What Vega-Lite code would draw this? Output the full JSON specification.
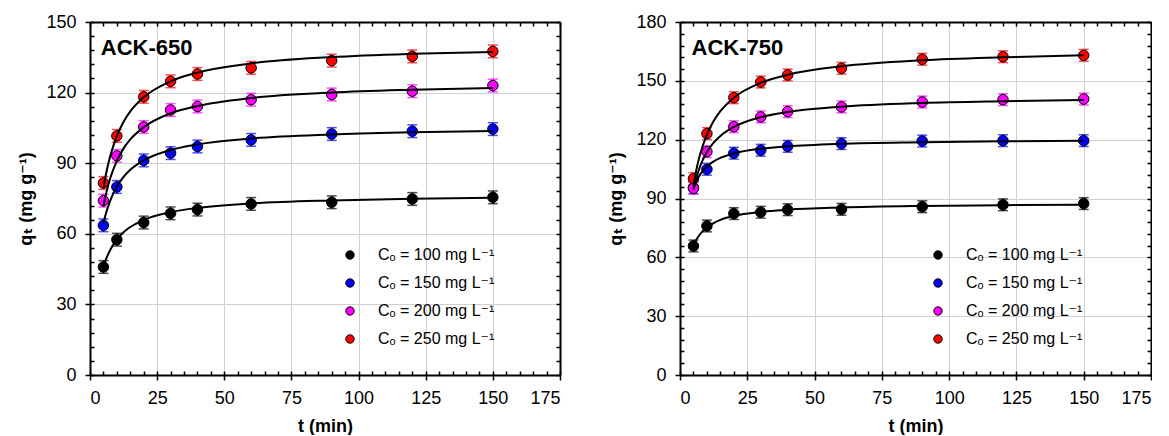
{
  "$schema": "https://vega.github.io/schema/vega-lite/v6.json",
  "background": "white",
  "padding": {"left": 17, "top": 13, "right": 0, "bottom": 0},
  "spacing": 46,
  "resolve": {"scale": {"color": "independent"}},
  "datasets": {
    "p650": [
      {"c":"100","t":5,"q":45.9,"lo":43.2,"hi":48.6},{"c":"100","t":10,"q":57.5,"lo":54.8,"hi":60.2},{"c":"100","t":20,"q":64.8,"lo":62.1,"hi":67.5},{"c":"100","t":30,"q":68.7,"lo":66.0,"hi":71.4},{"c":"100","t":40,"q":70.3,"lo":67.6,"hi":73.0},{"c":"100","t":60,"q":72.7,"lo":70.0,"hi":75.4},{"c":"100","t":90,"q":73.4,"lo":70.7,"hi":76.1},{"c":"100","t":120,"q":74.8,"lo":72.1,"hi":77.5},{"c":"100","t":150,"q":75.5,"lo":72.8,"hi":78.2},
      {"c":"150","t":5,"q":63.6,"lo":60.9,"hi":66.3},{"c":"150","t":10,"q":79.9,"lo":77.2,"hi":82.6},{"c":"150","t":20,"q":91.2,"lo":88.5,"hi":93.9},{"c":"150","t":30,"q":94.3,"lo":91.6,"hi":97.0},{"c":"150","t":40,"q":97.1,"lo":94.4,"hi":99.8},{"c":"150","t":60,"q":99.9,"lo":97.2,"hi":102.6},{"c":"150","t":90,"q":102.4,"lo":99.7,"hi":105.1},{"c":"150","t":120,"q":103.6,"lo":100.9,"hi":106.3},{"c":"150","t":150,"q":104.5,"lo":101.8,"hi":107.2},
      {"c":"200","t":5,"q":74.1,"lo":71.4,"hi":76.8},{"c":"200","t":10,"q":93.1,"lo":90.4,"hi":95.8},{"c":"200","t":20,"q":105.4,"lo":102.7,"hi":108.1},{"c":"200","t":30,"q":112.6,"lo":109.9,"hi":115.3},{"c":"200","t":40,"q":114.1,"lo":111.4,"hi":116.8},{"c":"200","t":60,"q":117.0,"lo":114.3,"hi":119.7},{"c":"200","t":90,"q":119.2,"lo":116.5,"hi":121.9},{"c":"200","t":120,"q":120.6,"lo":117.9,"hi":123.3},{"c":"200","t":150,"q":123.0,"lo":120.3,"hi":125.7},
      {"c":"250","t":5,"q":81.6,"lo":78.9,"hi":84.3},{"c":"250","t":10,"q":101.6,"lo":98.9,"hi":104.3},{"c":"250","t":20,"q":118.2,"lo":115.5,"hi":120.9},{"c":"250","t":30,"q":124.8,"lo":122.1,"hi":127.5},{"c":"250","t":40,"q":127.9,"lo":125.2,"hi":130.6},{"c":"250","t":60,"q":130.5,"lo":127.8,"hi":133.2},{"c":"250","t":90,"q":133.6,"lo":130.9,"hi":136.3},{"c":"250","t":120,"q":135.4,"lo":132.7,"hi":138.1},{"c":"250","t":150,"q":137.5,"lo":134.8,"hi":140.2}
    ],
    "p750": [
      {"c":"100","t":5,"q":65.8,"lo":62.8,"hi":68.8},{"c":"100","t":10,"q":76.0,"lo":73.0,"hi":79.0},{"c":"100","t":20,"q":82.3,"lo":79.3,"hi":85.3},{"c":"100","t":30,"q":83.0,"lo":80.0,"hi":86.0},{"c":"100","t":40,"q":84.3,"lo":81.3,"hi":87.3},{"c":"100","t":60,"q":84.5,"lo":81.5,"hi":87.5},{"c":"100","t":90,"q":85.8,"lo":82.8,"hi":88.8},{"c":"100","t":120,"q":86.8,"lo":83.8,"hi":89.8},{"c":"100","t":150,"q":87.4,"lo":84.4,"hi":90.4},
      {"c":"150","t":5,"q":95.5,"lo":92.5,"hi":98.5},{"c":"150","t":10,"q":104.9,"lo":101.9,"hi":107.9},{"c":"150","t":20,"q":113.1,"lo":110.1,"hi":116.1},{"c":"150","t":30,"q":114.6,"lo":111.6,"hi":117.6},{"c":"150","t":40,"q":116.6,"lo":113.6,"hi":119.6},{"c":"150","t":60,"q":118.0,"lo":115.0,"hi":121.0},{"c":"150","t":90,"q":119.3,"lo":116.3,"hi":122.3},{"c":"150","t":120,"q":119.5,"lo":116.5,"hi":122.5},{"c":"150","t":150,"q":119.5,"lo":116.5,"hi":122.5},
      {"c":"200","t":5,"q":95.2,"lo":92.2,"hi":98.2},{"c":"200","t":10,"q":113.9,"lo":110.9,"hi":116.9},{"c":"200","t":20,"q":126.6,"lo":123.6,"hi":129.6},{"c":"200","t":30,"q":131.6,"lo":128.6,"hi":134.6},{"c":"200","t":40,"q":134.3,"lo":131.3,"hi":137.3},{"c":"200","t":60,"q":136.7,"lo":133.7,"hi":139.7},{"c":"200","t":90,"q":139.2,"lo":136.2,"hi":142.2},{"c":"200","t":120,"q":140.4,"lo":137.4,"hi":143.4},{"c":"200","t":150,"q":140.7,"lo":137.7,"hi":143.7},
      {"c":"250","t":5,"q":100.1,"lo":97.1,"hi":103.1},{"c":"250","t":10,"q":123.1,"lo":120.1,"hi":126.1},{"c":"250","t":20,"q":141.4,"lo":138.4,"hi":144.4},{"c":"250","t":30,"q":149.4,"lo":146.4,"hi":152.4},{"c":"250","t":40,"q":153.0,"lo":150.0,"hi":156.0},{"c":"250","t":60,"q":156.4,"lo":153.4,"hi":159.4},{"c":"250","t":90,"q":161.0,"lo":158.0,"hi":164.0},{"c":"250","t":120,"q":162.3,"lo":159.3,"hi":165.3},{"c":"250","t":150,"q":163.0,"lo":160.0,"hi":166.0}
    ],
    "f650": [
      {"c":"100","t":5,"q":46.0},{"c":"100","t":6,"q":49.3},{"c":"100","t":7.5,"q":53.1},{"c":"100","t":10,"q":57.6},{"c":"100","t":12.5,"q":60.7},{"c":"100","t":15,"q":62.9},{"c":"100","t":20,"q":65.9},{"c":"100","t":30,"q":69.2},{"c":"100","t":40,"q":71.0},{"c":"100","t":60,"q":72.9},{"c":"100","t":90,"q":74.2},{"c":"100","t":120,"q":74.9},{"c":"100","t":150,"q":75.3},
      {"c":"150","t":5,"q":64.4},{"c":"150","t":6,"q":68.9},{"c":"150","t":7.5,"q":74.0},{"c":"150","t":10,"q":80.1},{"c":"150","t":12.5,"q":84.2},{"c":"150","t":15,"q":87.2},{"c":"150","t":20,"q":91.2},{"c":"150","t":30,"q":95.6},{"c":"150","t":40,"q":98.0},{"c":"150","t":60,"q":100.5},{"c":"150","t":90,"q":102.2},{"c":"150","t":120,"q":103.1},{"c":"150","t":150,"q":103.7},
      {"c":"200","t":5,"q":71.6},{"c":"200","t":6,"q":77.1},{"c":"200","t":7.5,"q":83.5},{"c":"200","t":10,"q":91.0},{"c":"200","t":12.5,"q":96.3},{"c":"200","t":15,"q":100.1},{"c":"200","t":20,"q":105.3},{"c":"200","t":30,"q":111.2},{"c":"200","t":40,"q":114.3},{"c":"200","t":60,"q":117.7},{"c":"200","t":90,"q":120.0},{"c":"200","t":120,"q":121.2},{"c":"200","t":150,"q":122.0},
      {"c":"250","t":5,"q":79.4},{"c":"250","t":6,"q":85.6},{"c":"250","t":7.5,"q":92.9},{"c":"250","t":10,"q":101.5},{"c":"250","t":12.5,"q":107.6},{"c":"250","t":15,"q":112.0},{"c":"250","t":20,"q":118.0},{"c":"250","t":30,"q":124.8},{"c":"250","t":40,"q":128.5},{"c":"250","t":60,"q":132.4},{"c":"250","t":90,"q":135.1},{"c":"250","t":120,"q":136.5},{"c":"250","t":150,"q":137.3}
    ],
    "f750": [
      {"c":"100","t":5,"q":66.0},{"c":"100","t":6,"q":68.8},{"c":"100","t":7.5,"q":71.9},{"c":"100","t":10,"q":75.3},{"c":"100","t":12.5,"q":77.5},{"c":"100","t":15,"q":79.1},{"c":"100","t":20,"q":81.1},{"c":"100","t":30,"q":83.2},{"c":"100","t":40,"q":84.3},{"c":"100","t":60,"q":85.4},{"c":"100","t":90,"q":86.2},{"c":"100","t":120,"q":86.6},{"c":"100","t":150,"q":86.8},
      {"c":"150","t":5,"q":95.1},{"c":"150","t":6,"q":98.6},{"c":"150","t":7.5,"q":102.3},{"c":"150","t":10,"q":106.3},{"c":"150","t":12.5,"q":108.9},{"c":"150","t":15,"q":110.7},{"c":"150","t":20,"q":113.0},{"c":"150","t":30,"q":115.4},{"c":"150","t":40,"q":116.6},{"c":"150","t":60,"q":117.9},{"c":"150","t":90,"q":118.7},{"c":"150","t":120,"q":119.2},{"c":"150","t":150,"q":119.4},
      {"c":"200","t":5,"q":94.5},{"c":"200","t":6,"q":100.1},{"c":"200","t":7.5,"q":106.5},{"c":"200","t":10,"q":113.7},{"c":"200","t":12.5,"q":118.5},{"c":"200","t":15,"q":121.9},{"c":"200","t":20,"q":126.5},{"c":"200","t":30,"q":131.5},{"c":"200","t":40,"q":134.1},{"c":"200","t":60,"q":136.8},{"c":"200","t":90,"q":138.7},{"c":"200","t":120,"q":139.6},{"c":"200","t":150,"q":140.2},
      {"c":"250","t":5,"q":96.9},{"c":"250","t":6,"q":104.2},{"c":"250","t":7.5,"q":112.7},{"c":"250","t":10,"q":122.6},{"c":"250","t":12.5,"q":129.5},{"c":"250","t":15,"q":134.5},{"c":"250","t":20,"q":141.4},{"c":"250","t":30,"q":149.0},{"c":"250","t":40,"q":153.1},{"c":"250","t":60,"q":157.4},{"c":"250","t":90,"q":160.5},{"c":"250","t":120,"q":162.0},{"c":"250","t":150,"q":163.0}
    ]
  },
  "hconcat": [
    {
      "width": 470,
      "height": 353,
      "resolve": {"axis": {"x": "independent", "y": "independent"}, "legend": {"color": "independent"}},
      "layer": [
        {
          "data": {"name": "p650"},
          "mark": {"type": "rule", "strokeWidth": 1.5},
          "encoding": {
            "x": {"field": "t", "type": "quantitative", "scale": {"domain": [0, 175], "nice": false},
              "axis": {"orient": "bottom", "values": [0,25,50,75,100,125,150,175], "grid": true, "tickSize": 5, "labelPadding": 9, "title": "t (min)", "titlePadding": 10}},
            "y": {"field": "lo", "type": "quantitative", "scale": {"domain": [0, 150], "nice": false},
              "axis": {"orient": "left", "values": [0,30,60,90,120,150], "grid": true, "tickSize": 5, "labelPadding": 9, "title": "q\u209c (mg g\u207b\u00b9)", "titlePadding": 10}},
            "y2": {"field": "hi"},
            "color": {"field": "c", "type": "nominal", "scale": {"domain": ["100","150","200","250"], "range": ["#000000","#0000ff","#ff00ff","#ff0000"]}, "legend": null}
          }
        },
        {
          "data": {"name": "p650"},
          "mark": {"type": "tick", "orient": "horizontal", "size": 10, "thickness": 1.5},
          "encoding": {
            "x": {"field": "t", "type": "quantitative", "axis": null},
            "y": {"field": "lo", "type": "quantitative", "axis": null},
            "color": {"field": "c", "type": "nominal", "legend": null}
          }
        },
        {
          "data": {"name": "p650"},
          "mark": {"type": "tick", "orient": "horizontal", "size": 10, "thickness": 1.5},
          "encoding": {
            "x": {"field": "t", "type": "quantitative", "axis": null},
            "y": {"field": "hi", "type": "quantitative", "axis": null},
            "color": {"field": "c", "type": "nominal", "legend": null}
          }
        },
        {
          "data": {"name": "p650"},
          "mark": {"type": "point", "filled": true, "size": 110, "stroke": "black", "strokeWidth": 1, "opacity": 1},
          "encoding": {
            "x": {"field": "t", "type": "quantitative",
              "axis": {"orient": "bottom", "values": [0,5,10,15,20,25,30,35,40,45,50,55,60,65,70,75,80,85,90,95,100,105,110,115,120,125,130,135,140,145,150,155,160,165,170,175], "labels": false, "grid": false, "domain": false, "tickSize": -4, "title": null}},
            "y": {"field": "q", "type": "quantitative",
              "axis": {"orient": "left", "values": [0,6,12,18,24,30,36,42,48,54,60,66,72,78,84,90,96,102,108,114,120,126,132,138,144,150], "labels": false, "grid": false, "domain": false, "tickSize": -4, "title": null}},
            "color": {"field": "c", "type": "nominal",
              "legend": {"orient": "none", "legendX": 252, "legendY": 225, "title": null, "symbolType": "circle", "symbolSize": 70, "symbolStrokeColor": "black", "symbolStrokeWidth": 1, "labelFontSize": 16, "labelOffset": 20, "rowPadding": 12, "padding": 0,
                "labelExpr": "'C\u2092 = ' + datum.label + ' mg L\u207b\u00b9'"}}
          }
        },
        {
          "data": {"name": "f650"},
          "mark": {"type": "line", "color": "black", "strokeWidth": 2, "interpolate": "monotone"},
          "encoding": {
            "x": {"field": "t", "type": "quantitative",
              "axis": {"orient": "top", "values": [0,5,10,15,20,25,30,35,40,45,50,55,60,65,70,75,80,85,90,95,100,105,110,115,120,125,130,135,140,145,150,155,160,165,170,175], "labels": false, "grid": false, "tickSize": -4, "title": null}},
            "y": {"field": "q", "type": "quantitative",
              "axis": {"orient": "right", "values": [0,6,12,18,24,30,36,42,48,54,60,66,72,78,84,90,96,102,108,114,120,126,132,138,144,150], "labels": false, "grid": false, "tickSize": -4, "title": null}},
            "detail": {"field": "c"}
          }
        },
        {
          "data": {"values": [{}]},
          "mark": {"type": "text", "text": "ACK-650", "fontSize": 22, "fontWeight": "bold", "align": "left", "baseline": "alphabetic", "color": "black"},
          "encoding": {
            "x": {"datum": 4, "type": "quantitative", "axis": null},
            "y": {"datum": 136, "type": "quantitative", "axis": null}
          }
        }
      ]
    },
    {
      "width": 471,
      "height": 353,
      "resolve": {"axis": {"x": "independent", "y": "independent"}, "legend": {"color": "independent"}},
      "layer": [
        {
          "data": {"name": "p750"},
          "mark": {"type": "rule", "strokeWidth": 1.5},
          "encoding": {
            "x": {"field": "t", "type": "quantitative", "scale": {"domain": [0, 175], "nice": false},
              "axis": {"orient": "bottom", "values": [0,25,50,75,100,125,150,175], "grid": true, "tickSize": 5, "labelPadding": 9, "title": "t (min)", "titlePadding": 10}},
            "y": {"field": "lo", "type": "quantitative", "scale": {"domain": [0, 180], "nice": false},
              "axis": {"orient": "left", "values": [0,30,60,90,120,150,180], "grid": true, "tickSize": 5, "labelPadding": 9, "title": "q\u209c (mg g\u207b\u00b9)", "titlePadding": 10}},
            "y2": {"field": "hi"},
            "color": {"field": "c", "type": "nominal", "scale": {"domain": ["100","150","200","250"], "range": ["#000000","#0000ff","#ff00ff","#ff0000"]}, "legend": null}
          }
        },
        {
          "data": {"name": "p750"},
          "mark": {"type": "tick", "orient": "horizontal", "size": 10, "thickness": 1.5},
          "encoding": {
            "x": {"field": "t", "type": "quantitative", "axis": null},
            "y": {"field": "lo", "type": "quantitative", "axis": null},
            "color": {"field": "c", "type": "nominal", "legend": null}
          }
        },
        {
          "data": {"name": "p750"},
          "mark": {"type": "tick", "orient": "horizontal", "size": 10, "thickness": 1.5},
          "encoding": {
            "x": {"field": "t", "type": "quantitative", "axis": null},
            "y": {"field": "hi", "type": "quantitative", "axis": null},
            "color": {"field": "c", "type": "nominal", "legend": null}
          }
        },
        {
          "data": {"name": "p750"},
          "mark": {"type": "point", "filled": true, "size": 110, "stroke": "black", "strokeWidth": 1, "opacity": 1},
          "encoding": {
            "x": {"field": "t", "type": "quantitative",
              "axis": {"orient": "bottom", "values": [0,5,10,15,20,25,30,35,40,45,50,55,60,65,70,75,80,85,90,95,100,105,110,115,120,125,130,135,140,145,150,155,160,165,170,175], "labels": false, "grid": false, "domain": false, "tickSize": -4, "title": null}},
            "y": {"field": "q", "type": "quantitative",
              "axis": {"orient": "left", "values": [0,6,12,18,24,30,36,42,48,54,60,66,72,78,84,90,96,102,108,114,120,126,132,138,144,150,156,162,168,174,180], "labels": false, "grid": false, "domain": false, "tickSize": -4, "title": null}},
            "color": {"field": "c", "type": "nominal",
              "legend": {"orient": "none", "legendX": 250, "legendY": 225, "title": null, "symbolType": "circle", "symbolSize": 70, "symbolStrokeColor": "black", "symbolStrokeWidth": 1, "labelFontSize": 16, "labelOffset": 20, "rowPadding": 12, "padding": 0,
                "labelExpr": "'C\u2092 = ' + datum.label + ' mg L\u207b\u00b9'"}}
          }
        },
        {
          "data": {"name": "f750"},
          "mark": {"type": "line", "color": "black", "strokeWidth": 2, "interpolate": "monotone"},
          "encoding": {
            "x": {"field": "t", "type": "quantitative",
              "axis": {"orient": "top", "values": [0,5,10,15,20,25,30,35,40,45,50,55,60,65,70,75,80,85,90,95,100,105,110,115,120,125,130,135,140,145,150,155,160,165,170,175], "labels": false, "grid": false, "tickSize": -4, "title": null}},
            "y": {"field": "q", "type": "quantitative",
              "axis": {"orient": "right", "values": [0,6,12,18,24,30,36,42,48,54,60,66,72,78,84,90,96,102,108,114,120,126,132,138,144,150,156,162,168,174,180], "labels": false, "grid": false, "tickSize": -4, "title": null}},
            "detail": {"field": "c"}
          }
        },
        {
          "data": {"values": [{}]},
          "mark": {"type": "text", "text": "ACK-750", "fontSize": 22, "fontWeight": "bold", "align": "left", "baseline": "alphabetic", "color": "black"},
          "encoding": {
            "x": {"datum": 4.3, "type": "quantitative", "axis": null},
            "y": {"datum": 163, "type": "quantitative", "axis": null}
          }
        }
      ]
    }
  ],
  "config": {
    "view": {"stroke": null},
    "font": "Liberation Sans, Arial, DejaVu Sans, sans-serif",
    "axis": {
      "labelFont": "Liberation Sans, Arial, DejaVu Sans, sans-serif",
      "titleFont": "Liberation Sans, Arial, DejaVu Sans, sans-serif",
      "labelFontSize": 18,
      "labelColor": "black",
      "titleFontSize": 18,
      "titleFontWeight": "bold",
      "titleColor": "black",
      "domainColor": "black",
      "domainWidth": 2,
      "tickColor": "black",
      "tickWidth": 1.5,
      "gridColor": "#d0d0d0",
      "gridWidth": 1
    },
    "legend": {
      "labelFont": "Liberation Sans, Arial, DejaVu Sans, sans-serif",
      "labelColor": "black"
    }
  }
}
